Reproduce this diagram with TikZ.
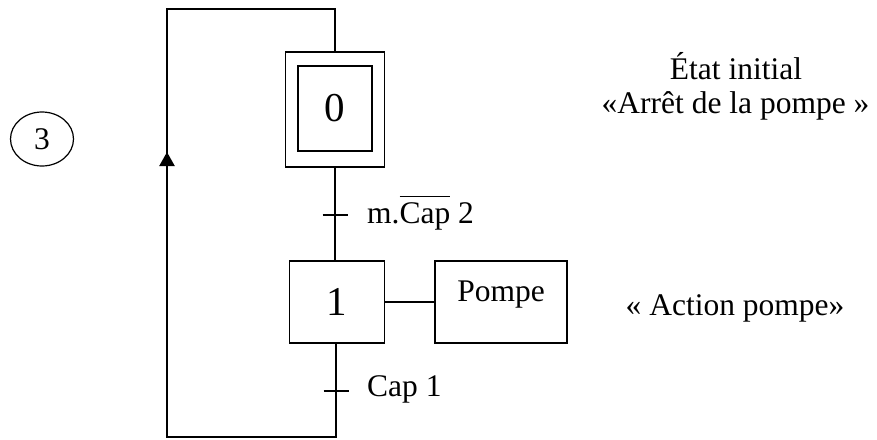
\documentclass[tikz,border=0pt]{standalone}
\usepackage{fontspec}
\setmainfont{Liberation Serif}
\usetikzlibrary{shapes.geometric,arrows.meta}
\tikzset{
  ln/.style={line width=1.4pt},
  stepbox/.style={draw, line width=1.4pt, inner sep=0pt, font=\fontsize{41}{45}\selectfont},
  txt/.style={inner sep=0pt, anchor=base, font=\fontsize{31.5}{36}\selectfont},
  lbl/.style={inner sep=0pt, anchor=base west, font=\fontsize{31.5}{36}\selectfont},
}
\begin{document}
\begin{tikzpicture}[x=1pt,y=-1pt]
\useasboundingbox (0,0) rectangle (877,439);
% steps
\node[stepbox, minimum width=99pt, minimum height=115pt] (s0) at (335,109.5) {};
\node[stepbox, minimum width=74pt, minimum height=85pt] (s0i) at (335,108.5) {0};
\node[stepbox, minimum width=95pt, minimum height=82pt] (s1) at (337,302) {1};
\node[draw, line width=1.4pt, inner sep=0pt, minimum width=132pt, text height=40pt, text depth=42pt, font=\fontsize{31.5}{36}\selectfont] (act) at (501,302) {Pompe};
% coordinates
\coordinate (t1) at (335,215);
\coordinate (t2) at (336,391);
\coordinate (bl) at (167,437);
\coordinate (tl) at (167,9);
\coordinate (a1) at (167,221);
\coordinate (a2) at (167,152);
% links
\draw[ln] (s0.south) -- (s0.south |- s1.north);
\draw[ln] (s1.east) -- (act.west);
\draw[ln] (s1.south -| t2) -- (t2 |- bl) -- (bl) -- (tl) -- (tl -| s0.north) -- (s0.north);
\draw[line width=2.2pt, -{Triangle[width=15pt,length=14pt]}] (a1) -- (a2);
% transitions
\draw[ln] ([xshift=-12.5pt]t1) -- ([xshift=12.5pt]t1);
\draw[ln] ([xshift=-12.5pt]t2) -- ([xshift=12.5pt]t2);
\node[lbl] (c1) at (367,223) {m.$\overline{\mbox{Cap\rule{0pt}{25pt}}}$ 2};
\node[lbl] (c2) at (367,396) {Cap 1};
% circle
\node[draw, ellipse, line width=1.2pt, minimum width=63pt, minimum height=54pt, inner sep=0pt, font=\fontsize{31.5}{36}\selectfont] (c3) at (42,139) {3};
% comments
\node[txt] (e1) at (736,79) {État initial};
\node[txt] (e2) at (735.5,113) {«Arrêt de la pompe »};
\node[txt] (e3) at (735,315) {« Action pompe»};
\end{tikzpicture}
\end{document}
